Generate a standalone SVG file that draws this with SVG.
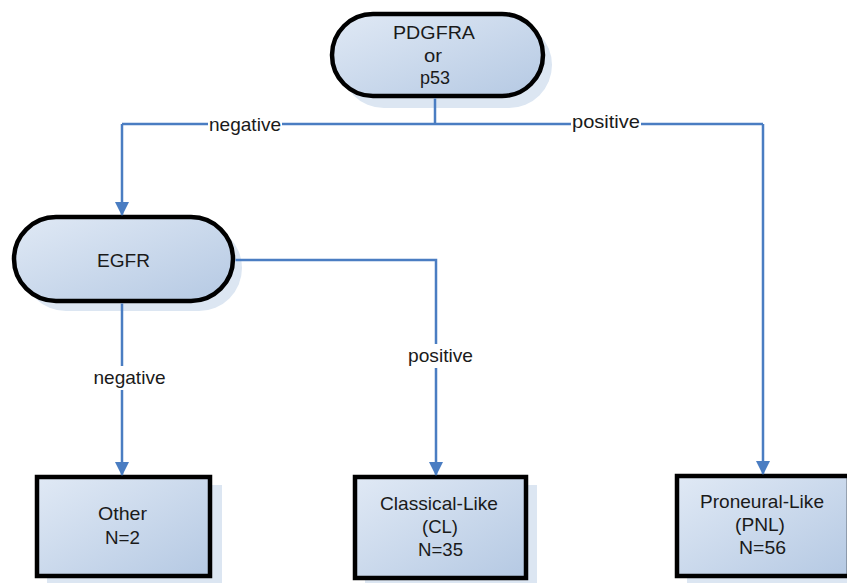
<svg xmlns="http://www.w3.org/2000/svg" width="847" height="583" viewBox="0 0 847 583">
<defs>
<linearGradient id="g" x1="0" y1="0" x2="1" y2="1">
<stop offset="0" stop-color="#e0e9f5"/>
<stop offset="1" stop-color="#b5c9e3"/>
</linearGradient>
<marker id="arr" markerWidth="14" markerHeight="14" refX="13" refY="7" orient="auto" markerUnits="userSpaceOnUse">
<path d="M0,0 L14,7 L0,14 Z" fill="#4a7dc2"/>
</marker>
<style>
.shadow{fill:#dce6f2;}
.node{fill:url(#g);stroke:#000;stroke-width:4.5;}
.t{font-family:"Liberation Sans",Arial,sans-serif;font-size:18.5px;fill:#1a1a1a;text-anchor:middle;}
.c{fill:none;stroke:#4a7dc2;stroke-width:2.5;}
.lb{fill:#fff;}
</style>
</defs>
<rect width="847" height="583" fill="#fff"/>
<g id="n-top">
<rect class="shadow" x="341" y="22" width="211" height="86" rx="43"/>
<rect class="node" x="332" y="14" width="211" height="82" rx="41"/>
<text class="t" x="434" y="39" textLength="82" lengthAdjust="spacingAndGlyphs">PDGFRA</text>
<text class="t" x="433" y="62" textLength="18" lengthAdjust="spacingAndGlyphs">or</text>
<text class="t" x="435" y="84" textLength="30" lengthAdjust="spacingAndGlyphs">p53</text>
</g>
<g id="n-egfr">
<rect class="shadow" x="23" y="225" width="219" height="86" rx="43"/>
<rect class="node" x="14" y="217" width="219" height="84" rx="42"/>
<text class="t" x="123.5" y="267" textLength="53" lengthAdjust="spacingAndGlyphs">EGFR</text>
</g>
<g id="n-other">
<rect class="shadow" x="47" y="485" width="175" height="100"/>
<rect class="node" x="37" y="477" width="173" height="99"/>
<text class="t" x="122.5" y="520" textLength="49" lengthAdjust="spacingAndGlyphs">Other</text>
<text class="t" x="122.5" y="544" textLength="35" lengthAdjust="spacingAndGlyphs">N=2</text>
</g>
<g id="n-cl">
<rect class="shadow" x="365" y="485" width="172" height="100"/>
<rect class="node" x="355" y="477" width="171" height="101"/>
<text class="t" x="439" y="510" textLength="118" lengthAdjust="spacingAndGlyphs">Classical-Like</text>
<text class="t" x="440" y="533" textLength="36" lengthAdjust="spacingAndGlyphs">(CL)</text>
<text class="t" x="440.5" y="556" textLength="45" lengthAdjust="spacingAndGlyphs">N=35</text>
</g>
<g id="n-pnl">
<rect class="shadow" x="687" y="484" width="172" height="100"/>
<rect class="node" x="677" y="476" width="172" height="100"/>
<text class="t" x="762" y="508" textLength="124" lengthAdjust="spacingAndGlyphs">Proneural-Like</text>
<text class="t" x="760" y="531" textLength="50" lengthAdjust="spacingAndGlyphs">(PNL)</text>
<text class="t" x="762.5" y="554" textLength="47" lengthAdjust="spacingAndGlyphs">N=56</text>
</g>
<g id="connectors">
<path class="c" d="M435,98.5 V124"/>
<path class="c" d="M122,124 H763"/>
<path class="c" d="M122,124 V215" marker-end="url(#arr)"/>
<path class="c" d="M763,124 V474" marker-end="url(#arr)"/>
<path class="c" d="M235.5,260 H436 V475" marker-end="url(#arr)"/>
<path class="c" d="M122,303.5 V475" marker-end="url(#arr)"/>
<rect class="lb" x="208" y="114" width="74" height="20"/>
<text class="t" x="245" y="131" textLength="72" lengthAdjust="spacingAndGlyphs">negative</text>
<rect class="lb" x="571" y="113" width="70" height="20"/>
<text class="t" x="606" y="128" textLength="68" lengthAdjust="spacingAndGlyphs">positive</text>
<rect class="lb" x="406" y="344" width="69" height="24"/>
<text class="t" x="440.5" y="362" textLength="65" lengthAdjust="spacingAndGlyphs">positive</text>
<rect class="lb" x="91" y="366" width="77" height="24"/>
<text class="t" x="129.5" y="384" textLength="72" lengthAdjust="spacingAndGlyphs">negative</text>
</g>
</svg>
